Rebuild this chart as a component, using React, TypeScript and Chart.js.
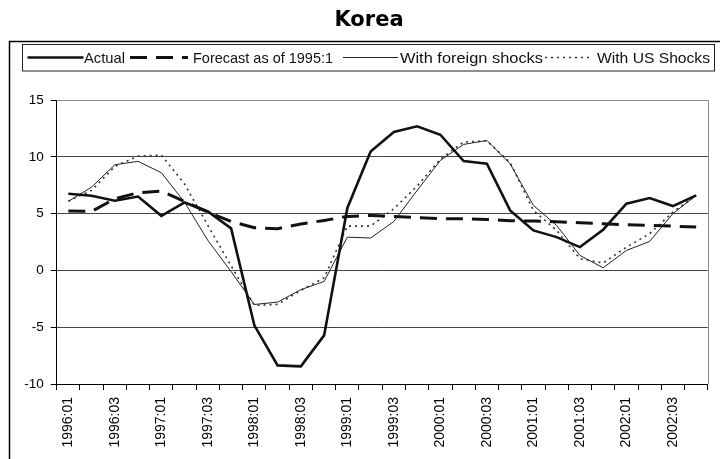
import React, { useEffect, useRef } from 'react';
import { Chart, registerables } from 'chart.js';

Chart.register(...registerables);

const chartTitle = 'Korea';

const quarters = [
  '1996:01', '1996:02', '1996:03', '1996:04',
  '1997:01', '1997:02', '1997:03', '1997:04',
  '1998:01', '1998:02', '1998:03', '1998:04',
  '1999:01', '1999:02', '1999:03', '1999:04',
  '2000:01', '2000:02', '2000:03', '2000:04',
  '2001:01', '2001:02', '2001:03', '2001:04',
  '2002:01', '2002:02', '2002:03', '2002:04',
];

const actual = [
  6.75, 6.57, 6.13, 6.5, 4.8, 5.98, 5.19, 3.7,
  -4.84, -8.36, -8.45, -5.72, 5.5, 10.47, 12.18, 12.68,
  11.94, 9.62, 9.39, 5.28, 3.52, 2.93, 2.05, 3.58,
  5.87, 6.37, 5.66, 6.6,
];

const forecast = [
  5.22, 5.19, 6.3, 6.84, 6.98, 6.07, 5.13, 4.31,
  3.76, 3.67, 4.08, 4.4, 4.75, 4.84, 4.75, 4.64,
  4.55, 4.55, 4.49, 4.37, 4.35, 4.28, 4.2, 4.1,
  4.02, 3.96, 3.9, 3.81,
];

const foreignShocks = [
  6.07, 7.33, 9.3, 9.6, 8.6, 6.0, 2.64, -0.1,
  -3.0, -2.79, -1.7, -0.97, 2.93, 2.85, 4.31, 7.04,
  9.68, 11.09, 11.44, 9.39, 5.72, 3.96, 1.32, 0.23,
  1.76, 2.55, 5.0, 6.6,
];

const usShocks = [
  6.1, 7.04, 9.15, 10.06, 10.15, 7.6, 3.96, 0.4,
  -3.08, -2.99, -1.76, -0.65, 3.9, 3.9, 5.43, 7.42,
  9.8, 11.3, 11.4, 9.5, 5.28, 3.52, 1.03, 0.65,
  2.05, 3.23, 5.13, 6.6,
];

const seriesNames = ['Actual', 'Forecast as of 1995:1', 'With foreign shocks', 'With US Shocks'];

const yTicks = [-10, -5, 0, 5, 10, 15];

export default function App() {
  const ref = useRef<HTMLCanvasElement | null>(null);

  useEffect(() => {
    const canvas = ref.current;
    if (!canvas) return;

    const decor = {
      id: 'decor',
      beforeDraw(chart: any) {
        const ctx = chart.ctx;
        ctx.save();
        ctx.fillStyle = '#fff';
        ctx.fillRect(0, 0, chart.width, chart.height);
        ctx.restore();
      },
      afterDraw(chart: any) {
        const ctx = chart.ctx as CanvasRenderingContext2D;
        const { left, top, right, bottom } = chart.chartArea;
        ctx.save();
        // plot-area border (top/right)
        ctx.strokeStyle = '#8a8a8a';
        ctx.lineWidth = 1;
        ctx.beginPath();
        ctx.moveTo(left, Math.round(top) + 0.5);
        ctx.lineTo(Math.round(right) + 0.5, Math.round(top) + 0.5);
        ctx.lineTo(Math.round(right) + 0.5, bottom);
        ctx.stroke();

        // outer frame
        ctx.strokeStyle = '#000';
        ctx.lineWidth = 1.5;
        ctx.strokeRect(9.5, 41.5, 1000, 1000);

        // title
        ctx.fillStyle = '#000';
        ctx.font = 'bold 21px "DejaVu Sans", sans-serif';
        ctx.textAlign = 'center';
        ctx.textBaseline = 'alphabetic';
        ctx.fillText(chartTitle, 369, 26);

        // legend box
        ctx.strokeStyle = '#222';
        ctx.lineWidth = 1;
        ctx.strokeRect(22.5, 44.5, 692, 26.5);

        const items = [
          { x0: 27.5, x1: 83.5, tx: 84, tw: 41 },
          { x0: 130, x1: 188, tx: 193, tw: 140 },
          { x0: 343, x1: 398, tx: 400, tw: 143 },
          { x0: 545, x1: 593, tx: 597, tw: 113 },
        ];
        const ly = 57.5;
        ctx.font = '15px "Liberation Sans", Arial, sans-serif';
        ctx.textAlign = 'left';
        ctx.textBaseline = 'middle';
        chart.data.datasets.forEach((ds: any, i: number) => {
          const it = items[i];
          ctx.save();
          ctx.strokeStyle = ds.borderColor;
          ctx.lineWidth = ds.borderWidth;
          ctx.setLineDash(ds.borderDash || []);
          ctx.beginPath();
          ctx.moveTo(it.x0, ly);
          ctx.lineTo(it.x1, ly);
          ctx.stroke();
          ctx.restore();
          const w = ctx.measureText(ds.label).width;
          const sx = Math.min(1.15, Math.max(0.9, it.tw / w));
          ctx.save();
          ctx.translate(it.tx, ly + 1);
          ctx.scale(sx, 1);
          ctx.fillStyle = '#111';
          ctx.fillText(ds.label, 0, 0);
          ctx.restore();
        });
        ctx.restore();
      },
    };

    const chart = new Chart(canvas, {
      type: 'line',
      data: {
        labels: quarters,
        datasets: [
          {
            label: seriesNames[0],
            data: actual,
            borderColor: '#111',
            borderWidth: 2.6,
            pointRadius: 0,
            tension: 0,
            fill: false,
          },
          {
            label: seriesNames[1],
            data: forecast,
            borderColor: '#111',
            borderWidth: 3,
            borderDash: [17, 9],
            pointRadius: 0,
            tension: 0,
            fill: false,
          },
          {
            label: seriesNames[2],
            data: foreignShocks,
            borderColor: '#222',
            borderWidth: 1,
            pointRadius: 0,
            tension: 0,
            fill: false,
          },
          {
            label: seriesNames[3],
            data: usShocks,
            borderColor: '#333',
            borderWidth: 1.6,
            borderDash: [2, 4],
            pointRadius: 0,
            tension: 0,
            fill: false,
          },
        ],
      },
      options: {
        responsive: false,
        animation: false,
        devicePixelRatio: 1,
        layout: { padding: { left: 0, top: 100, right: 2, bottom: 0 } },
        plugins: {
          legend: { display: false },
          title: { display: false },
          tooltip: { enabled: false },
        },
        scales: {
          x: {
            type: 'category',
            offset: true,
            afterFit(scale: any) {
              scale.height = 75;
            },
            grid: {
              offset: true,
              drawOnChartArea: false,
              drawTicks: true,
              tickLength: 6,
              color: '#000',
              tickColor: '#000',
            },
            border: { display: true, color: '#000', width: 1 },
            ticks: {
              autoSkip: false,
              minRotation: 90,
              maxRotation: 90,
              padding: 7,
              color: '#000',
              font: { family: '"Liberation Sans", Arial, sans-serif', size: 14 },
              callback: (_v: any, i: number) => (i % 2 === 0 ? quarters[i] : ''),
            },
          },
          y: {
            min: yTicks[0],
            max: yTicks[yTicks.length - 1],
            afterFit(scale: any) {
              scale.width = 56.7;
            },
            afterBuildTicks(scale: any) {
              scale.ticks = yTicks.map((v) => ({ value: v }));
            },
            grid: {
              drawTicks: true,
              tickLength: 6,
              color: (c: any) => (c.tick && c.tick.value === 15 ? '#8a8a8a' : '#444'),
              tickColor: '#000',
              lineWidth: 1,
            },
            border: { display: true, color: '#000', width: 1 },
            ticks: {
              padding: 7,
              color: '#000',
              font: { family: '"Liberation Sans", Arial, sans-serif', size: 13.5 },
            },
          },
        },
      },
      plugins: [decor],
    } as any);

    return () => {
      chart.destroy();
    };
  }, []);

  return (
    <div style={{ position: 'absolute', left: 0, top: 0, width: 720, height: 459 }}>
      <canvas ref={ref} width={720} height={459} style={{ display: 'block' }} />
    </div>
  );
}
